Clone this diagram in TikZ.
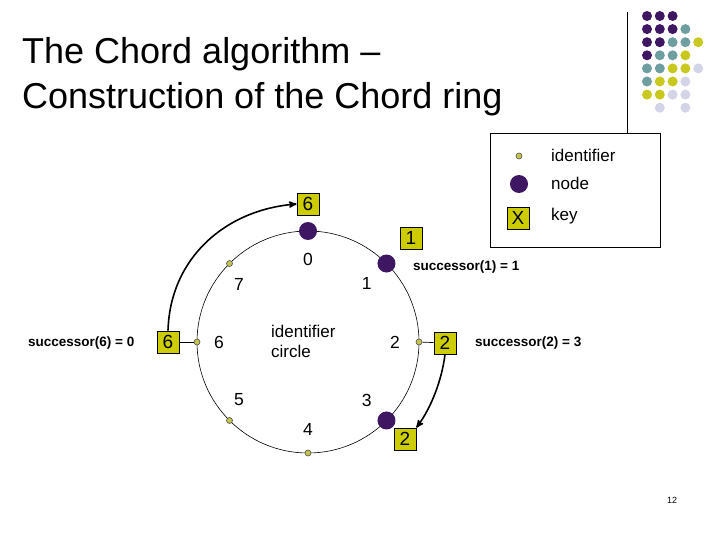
\documentclass[tikz,border=0pt]{standalone}
\usepackage{fontspec}
\setmainfont{Liberation Sans}
\usepackage{xcolor}
\usepackage{tikz}
\usetikzlibrary{arrows,calc,positioning}

\definecolor{chordpurple}{RGB}{62,22,98}
\definecolor{chordteal}{RGB}{110,158,160}
\definecolor{chordyellow}{RGB}{200,200,30}
\definecolor{chordlilac}{RGB}{212,212,232}
\definecolor{keyfill}{RGB}{204,204,0}
\definecolor{idfill}{RGB}{196,196,80}

\begin{document}
\begin{tikzpicture}[x=1pt,y=-1pt,
    >=stealth',
    node distance=1cm]
  \tikzstyle{every node}=[inner sep=0pt]
  \tikzstyle{ring node}=[circle,fill=chordpurple,minimum size=18pt]
  \tikzstyle{ident}=[circle,draw=black!70,fill=idfill,line width=0.6pt,minimum size=6pt]
  \tikzstyle{keybox}=[draw,line width=0.7pt,fill=keyfill,minimum width=22pt,minimum height=22pt,font=\fontsize{19}{19}\selectfont]
  \tikzstyle{num}=[font=\fontsize{17.5}{18}\selectfont]
  \tikzstyle{succ}=[anchor=west,font=\bfseries\fontsize{13.5}{14}\selectfont]
  \tikzstyle{legend}=[anchor=west,font=\fontsize{17}{17}\selectfont]
  \tikzstyle{pointer}=[->,line width=1.6pt]

  \useasboundingbox (0,0) rectangle (720,540);

  % title
  \node[anchor=base west,font=\fontsize{36}{45}\selectfont] (title1) at (22,64)  {The Chord algorithm --};
  \node[anchor=base west,font=\fontsize{36}{45}\selectfont] (title2) at (22,109) {Construction of the Chord ring};

  % dots in the corner
  \foreach \col/\row/\clr in {0/0/chordpurple,1/0/chordpurple,2/0/chordpurple,
      0/1/chordpurple,1/1/chordpurple,2/1/chordpurple,3/1/chordteal,
      0/2/chordpurple,1/2/chordpurple,2/2/chordteal,3/2/chordteal,4/2/chordyellow,
      0/3/chordpurple,1/3/chordteal,2/3/chordteal,3/3/chordyellow,
      0/4/chordteal,1/4/chordteal,2/4/chordyellow,3/4/chordyellow,4/4/chordlilac,
      0/5/chordteal,1/5/chordyellow,2/5/chordyellow,3/5/chordlilac,
      0/6/chordyellow,1/6/chordyellow,2/6/chordlilac,3/6/chordlilac,
      1/7/chordlilac,3/7/chordlilac}
    \fill[\clr] (647+12.8*\col,16+13.1*\row) circle (5pt);

  % legend
  \node[draw,line width=0.7pt,minimum width=170pt,minimum height=114pt] (legend) at (575,190) {};
  \coordinate (bar) at (627,12);
  \draw[line width=0.7pt] (bar) -- (bar |- legend.north);
  \node[ident]     (lid)       at (519,156) {};
  \node[legend]    (lidtext)   at (551,155) {identifier};
  \node[ring node] (lnode)     at (519,184) {};
  \node[legend]    (lnodetext) at (551,183) {node};
  \node[keybox]    (lkey)      at (518,218) {X};
  \node[legend]    (lkeytext)  at (551,216) {key};

  % the ring
  \coordinate (c) at (308,342);
  \draw[line width=0.6pt] (c) circle (111pt);
  \node[ring node] (n0) at ($(c)+(90:111pt)$)  {};
  \node[ring node] (n1) at ($(c)+(45:111pt)$)  {};
  \node[ring node] (n3) at ($(c)+(-45:111pt)$) {};
  \node[ident] (i2) at ($(c)+(0:111pt)$)    {};
  \node[ident] (i4) at ($(c)+(-90:111pt)$)  {};
  \node[ident] (i5) at ($(c)+(-135:111pt)$) {};
  \node[ident] (i6) at ($(c)+(180:111pt)$)  {};
  \node[ident] (i7) at ($(c)+(135:111pt)$)  {};
  \foreach \k/\a/\r in {0/90/83,1/45/83,2/0/87,3/-45/83,4/-90/87,5/-140/90,6/180/89,7/140/90}
    \node[num] (l\k) at ($(c)+(\a:\r pt)$) {\k};
  \node[anchor=west,align=left,font=\fontsize{17}{20}\selectfont] (idcircle) at (271,341) {identifier\\circle};

  % keys
  \node[keybox] (k6top) at (308,204) {6};
  \node[keybox] (k1)    at (411,238) {1};
  \node[keybox] (k6)    at (168,342) {6};
  \node[keybox] (k2)    at (445,343) {2};
  \node[keybox] (k2low) at (405,439) {2};

  \draw[line width=0.7pt] (k6) -- (i6);
  \draw[line width=0.7pt] (i2) -- (k2);
  \draw[pointer] (k6.north) .. controls +(2,-72) and +(-72,6) .. (k6top.west);
  \draw[pointer] (k2.south) .. controls +(-3,25) and +(15,-20) .. (k2low.north east);

  \node[succ] (s6) at (28,343)  {successor(6) = 0};
  \node[succ] (s1) at (413,267) {successor(1) = 1};
  \node[succ] (s2) at (475,343) {successor(2) = 3};

  \node[font=\fontsize{9}{9}\selectfont] (page) at (672,500) {12};
\end{tikzpicture}
\end{document}
